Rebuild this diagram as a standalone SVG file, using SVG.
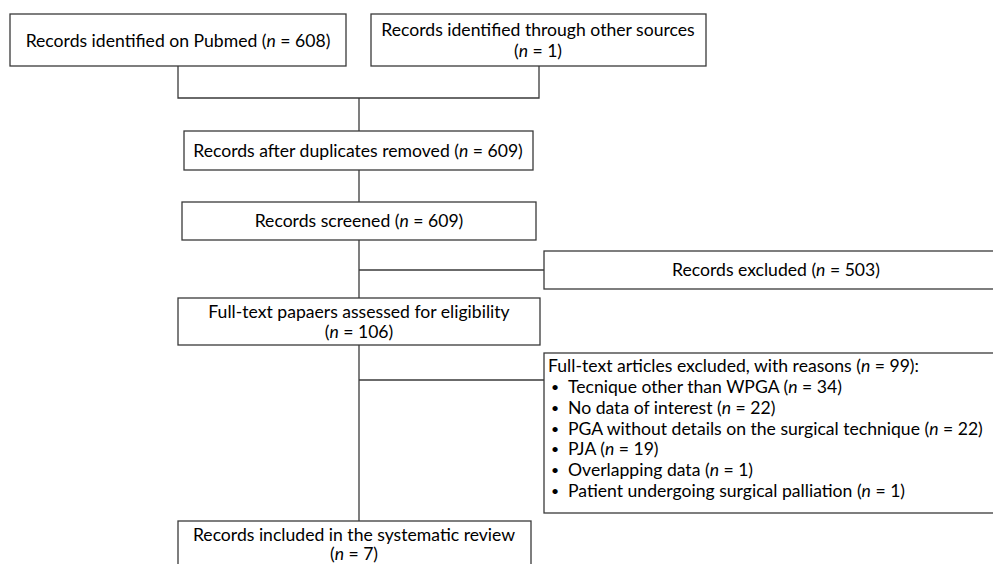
<svg xmlns="http://www.w3.org/2000/svg" width="993" height="564" viewBox="0 0 993 564">
<style>
.box{fill:#fff;stroke:#3a3a3a;stroke-width:1.3}
.ln{fill:none;stroke:#3a3a3a;stroke-width:1.3}
text{font-family:Lato,"Liberation Sans",sans-serif;font-size:17.6px;fill:#000}
.c{text-anchor:middle}
.i{font-style:italic}
.b{font-size:14px}
</style>
<rect width="993" height="564" fill="#fff"/>
<g id="connectors">
<polyline class="ln" points="178,66 178,98 539,98 539,66"/>
<line class="ln" x1="359" y1="98" x2="359" y2="131"/>
<line class="ln" x1="359" y1="170" x2="359" y2="202"/>
<line class="ln" x1="359" y1="240" x2="359" y2="298"/>
<line class="ln" x1="359" y1="270" x2="544" y2="270"/>
<line class="ln" x1="359" y1="345" x2="359" y2="521"/>
<line class="ln" x1="359" y1="380" x2="544" y2="380"/>
</g>
<g id="n1">
<rect class="box" x="10" y="14" width="336" height="52"/>
<text class="c" x="178" y="47">Records identified on Pubmed (<tspan class="i">n</tspan> = 608)</text>
</g>
<g id="n2">
<rect class="box" x="371" y="14" width="335" height="52"/>
<text class="c" x="538" y="36">Records identified through other sources</text>
<text class="c" x="538" y="57">(<tspan class="i">n</tspan> = 1)</text>
</g>
<g id="n3">
<rect class="box" x="184" y="131" width="349" height="39"/>
<text class="c" x="358" y="157">Records after duplicates removed (<tspan class="i">n</tspan> = 609)</text>
</g>
<g id="n4">
<rect class="box" x="182" y="202" width="354" height="38"/>
<text class="c" x="359" y="227">Records screened (<tspan class="i">n</tspan> = 609)</text>
</g>
<g id="n5">
<rect class="box" x="178" y="298" width="362" height="47"/>
<text class="c" x="359" y="318">Full-text papaers assessed for eligibility</text>
<text class="c" x="359" y="338">(<tspan class="i">n</tspan> = 106)</text>
</g>
<g id="n6">
<rect class="box" x="544" y="251" width="460" height="38"/>
<text class="c" x="776" y="276">Records excluded (<tspan class="i">n</tspan> = 503)</text>
</g>
<g id="n7">
<rect class="box" x="544" y="353" width="460" height="160"/>
<text x="548" y="372">Full-text articles excluded, with reasons (<tspan class="i">n</tspan> = 99):</text>
<text class="b" x="551" y="392">•</text><text x="568" y="393">Tecnique other than WPGA (<tspan class="i">n</tspan> = 34)</text>
<text class="b" x="551" y="413">•</text><text x="568" y="414">No data of interest (<tspan class="i">n</tspan> = 22)</text>
<text class="b" x="551" y="434">•</text><text x="568" y="435">PGA without details on the surgical technique (<tspan class="i">n</tspan> = 22)</text>
<text class="b" x="551" y="454">•</text><text x="568" y="455">PJA (<tspan class="i">n</tspan> = 19)</text>
<text class="b" x="551" y="475">•</text><text x="568" y="476">Overlapping data (<tspan class="i">n</tspan> = 1)</text>
<text class="b" x="551" y="496">•</text><text x="568" y="497">Patient undergoing surgical palliation (<tspan class="i">n</tspan> = 1)</text>
</g>
<g id="n8">
<rect class="box" x="178" y="521" width="353" height="60"/>
<text class="c" x="354" y="541">Records included in the systematic review</text>
<text class="c" x="354" y="560">(<tspan class="i">n</tspan> = 7)</text>
</g>
</svg>
